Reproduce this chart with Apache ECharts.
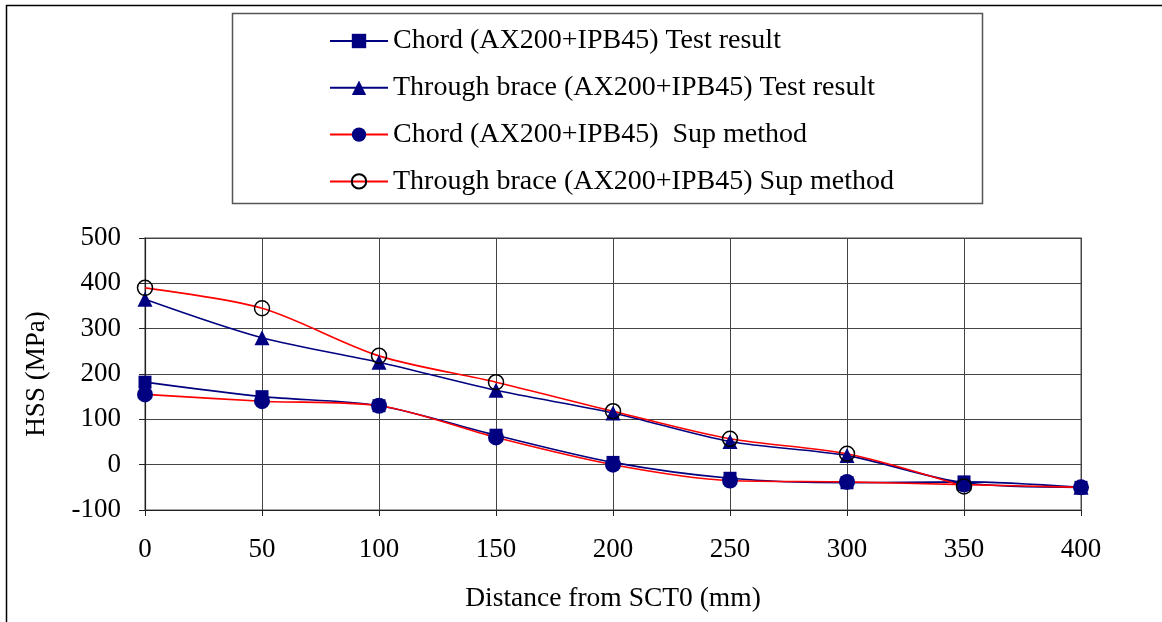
<!DOCTYPE html>
<html>
<head>
<meta charset="utf-8">
<script src="https://cdn.jsdelivr.net/npm/echarts@6/dist/echarts.min.js"></script>
<style>
    html, body { margin: 0; padding: 0; background: #fff; }
    #chart { width: 1162px; height: 622px; }
</style>
</head>
<body>
<div id="chart"></div>
<script>
const distances = [0, 50, 100, 150, 200, 250, 300, 350, 400];
const chordTest = [182, 150, 130, 65, 5, -30, -40, -38, -50];
const braceTest = [365, 280, 226, 164, 114, 51, 20, -40, -50];
const chordSup = [155, 140, 130, 60, 0, -35, -38, -44, -50];
const braceSup = [390, 345, 240, 182, 118, 57, 24, -48, null];

const seriesNames = [
    "Chord (AX200+IPB45) Test result",
    "Through brace (AX200+IPB45) Test result",
    "Chord (AX200+IPB45)  Sup method",
    "Through brace (AX200+IPB45) Sup method"
];

const font = "'Liberation Serif', 'Times New Roman', serif";
const navy = "#000080";
const red = "#ff0000";

const pairs = values => distances.map((d, i) => [d, values[i]]).filter(p => p[1] !== null);

function lineSeries(name, values, lineColor, symbol, symbolSize, itemStyle) {
    return {
        name,
        type: "line",
        data: pairs(values),
        smooth: 0.3,
        symbol,
        symbolSize,
        showAllSymbol: true,
        lineStyle: { color: lineColor, width: 1.6 },
        itemStyle,
        emphasis: { disabled: true }
    };
}

const chart = echarts.init(document.getElementById("chart"));

chart.setOption({
    animation: false,
    backgroundColor: "#fff",
    graphic: [
        {
            type: "rect",
            shape: { x: 6.5, y: 5.5, width: 1170, height: 630 },
            style: { fill: "none", stroke: "#000", lineWidth: 1.5 },
            silent: true
        },
        {
            type: "rect",
            shape: { x: 232.5, y: 13.5, width: 750, height: 190 },
            style: { fill: "none", stroke: "#555", lineWidth: 1.5 },
            silent: true
        }
    ],
    legend: {
        orient: "vertical",
        left: 329,
        top: 26,
        itemWidth: 58,
        itemHeight: 18,
        itemGap: 16.8,
        padding: 0,
        data: seriesNames,
        textStyle: {
            fontFamily: font,
            fontSize: 28,
            lineHeight: 30,
            color: "#000"
        }
    },
    grid: {
        left: 145,
        right: 81,
        top: 238,
        bottom: 112,
        show: true,
        borderColor: "#8a8a8a",
        borderWidth: 1.5
    },
    xAxis: {
        type: "value",
        min: 0,
        max: 400,
        interval: 50,
        name: "Distance from SCT0 (mm)",
        nameLocation: "middle",
        nameGap: 75,
        nameTextStyle: { fontFamily: font, fontSize: 27.5, color: "#000" },
        axisLine: { onZero: false, lineStyle: { color: "#222", width: 1.2 } },
        axisTick: { show: true, length: 6, lineStyle: { color: "#222" } },
        axisLabel: { margin: 26, fontFamily: font, fontSize: 27, color: "#000" },
        splitLine: { show: true, lineStyle: { color: "#444", width: 1 } }
    },
    yAxis: {
        type: "value",
        min: -100,
        max: 500,
        interval: 100,
        name: "HSS (MPa)",
        nameLocation: "middle",
        nameGap: 95,
        nameTextStyle: { fontFamily: font, fontSize: 27, color: "#000" },
        axisLine: { show: true, onZero: false, lineStyle: { color: "#222", width: 1.2 } },
        axisTick: { show: true, length: 6, lineStyle: { color: "#222" } },
        axisLabel: { margin: 24, fontFamily: font, fontSize: 27, color: "#000" },
        splitLine: { show: true, lineStyle: { color: "#444", width: 1 } }
    },
    series: [
        lineSeries(seriesNames[0], chordTest, navy, "rect", 13, { color: navy }),
        lineSeries(seriesNames[1], braceTest, navy, "triangle", 15, { color: navy }),
        lineSeries(seriesNames[2], chordSup, red, "circle", 16, { color: navy }),
        lineSeries(seriesNames[3], braceSup, red, "circle", 15, {
            color: "rgba(0,0,0,0)",
            borderColor: "#000",
            borderWidth: 1.5
        })
    ]
});
</script>
</body>
</html>
